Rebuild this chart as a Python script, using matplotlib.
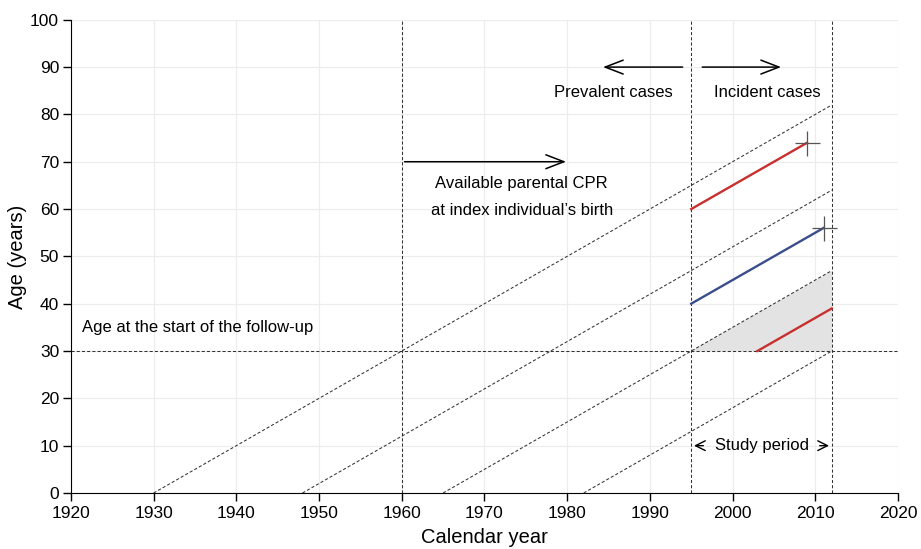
import matplotlib
matplotlib.use("Agg")
import matplotlib.pyplot as plt
import numpy as np

plt.rcParams['font.family'] = ['Liberation Sans', 'DejaVu Sans']

# Data
cohort_start_years = [1930, 1948, 1965, 1982]   # birth years of diagonal lifelines (age 0)
study_start = 1995
study_end = 2012
parental_year = 1960
follow_up_age = 30
# individual lifelines: (start year, start age, end year, end age, color, censored marker)
lifeline_x0 = [1995, 1995, 2003]
lifeline_y0 = [60, 40, 30]
lifeline_x1 = [2009, 2011, 2012]
lifeline_y1 = [74, 56, 39]
lifeline_colors = ['#c8302f', '#3b4d8c', '#c8302f']
lifeline_marker = [True, True, False]

xticks = list(range(1920, 2021, 10))
yticks = list(range(0, 101, 10))

fig = plt.figure(figsize=(9.21, 5.49), dpi=100)
ax = fig.add_axes([0.077, 0.102, 0.898, 0.862])
ax.set_xlim(1920, 2020)
ax.set_ylim(0, 100)
ax.set_xticks(xticks)
ax.set_yticks(yticks)
ax.grid(True, color='#ececec', linewidth=0.8)
ax.set_axisbelow(True)
for s in ['top', 'right']:
    ax.spines[s].set_visible(False)
ax.tick_params(labelsize=12.5, length=6, width=1, colors='black')
ax.tick_params(axis='y', pad=2.5)
ax.set_xlabel('Calendar year', fontsize=14.5, labelpad=5)
ax.set_ylabel('Age (years)', fontsize=14.5, labelpad=2)

dash = dict(color='#333333', linewidth=0.75, linestyle=(0, (3, 2)))

# shaded triangle
ax.fill([study_start, study_end, study_end],
        [follow_up_age, follow_up_age, follow_up_age + (study_end - study_start)],
        color='#e3e3e3', zorder=1, linewidth=0)

# diagonal lifelines
for b in cohort_start_years:
    ax.plot([b, study_end], [0, study_end - b], **dash, zorder=2)

# vertical / horizontal references
ax.plot([parental_year, parental_year], [0, 100], **dash, zorder=2)
ax.plot([study_start, study_start], [0, 100], **dash, zorder=2)
ax.plot([study_end, study_end], [0, 100], **dash, zorder=2)
ax.plot([1920, 2020], [follow_up_age, follow_up_age], **dash, zorder=2)

# individual lifelines
for x0, y0, x1, y1, c, m in zip(lifeline_x0, lifeline_y0, lifeline_x1, lifeline_y1,
                                 lifeline_colors, lifeline_marker):
    ax.plot([x0, x1], [y0, y1], color=c, linewidth=1.7, zorder=3)
    if m:
        ax.plot([x1], [y1], marker='+', markersize=18, markeredgewidth=0.9,
                color='#555555', zorder=4)

arrow = dict(arrowstyle='->,head_length=1.3,head_width=0.5', color='black', lw=1.1)
# parental CPR arrow
ax.annotate('', xy=(1980.2, 70), xytext=(1960, 70), arrowprops=arrow)
ax.text(1974.5, 65.5, 'Available parental CPR', ha='center', va='center', fontsize=12)
ax.text(1974.5, 59.8, "at index individual\u2019s birth", ha='center', va='center', fontsize=12)

# prevalent / incident
ax.annotate('', xy=(1984.0, 90), xytext=(1994.3, 90), arrowprops=arrow)
ax.annotate('', xy=(2006.2, 90), xytext=(1996.0, 90), arrowprops=arrow)
ax.text(1985.6, 84.7, 'Prevalent cases', ha='center', va='center', fontsize=12)
ax.text(2004.2, 84.7, 'Incident cases', ha='center', va='center', fontsize=12)

# study period
small_arrow = dict(arrowstyle='->,head_length=0.7,head_width=0.35', color='black', lw=1.0)
ax.annotate('', xy=(1995.0, 10), xytext=(1996.8, 10), arrowprops=small_arrow)
ax.annotate('', xy=(2012.0, 10), xytext=(2010.2, 10), arrowprops=small_arrow)
ax.text(2003.5, 10, 'Study period', ha='center', va='center', fontsize=12)

ax.text(1921.4, 35, 'Age at the start of the follow-up', ha='left', va='center', fontsize=12)

fig.savefig('out.png', dpi=100)
